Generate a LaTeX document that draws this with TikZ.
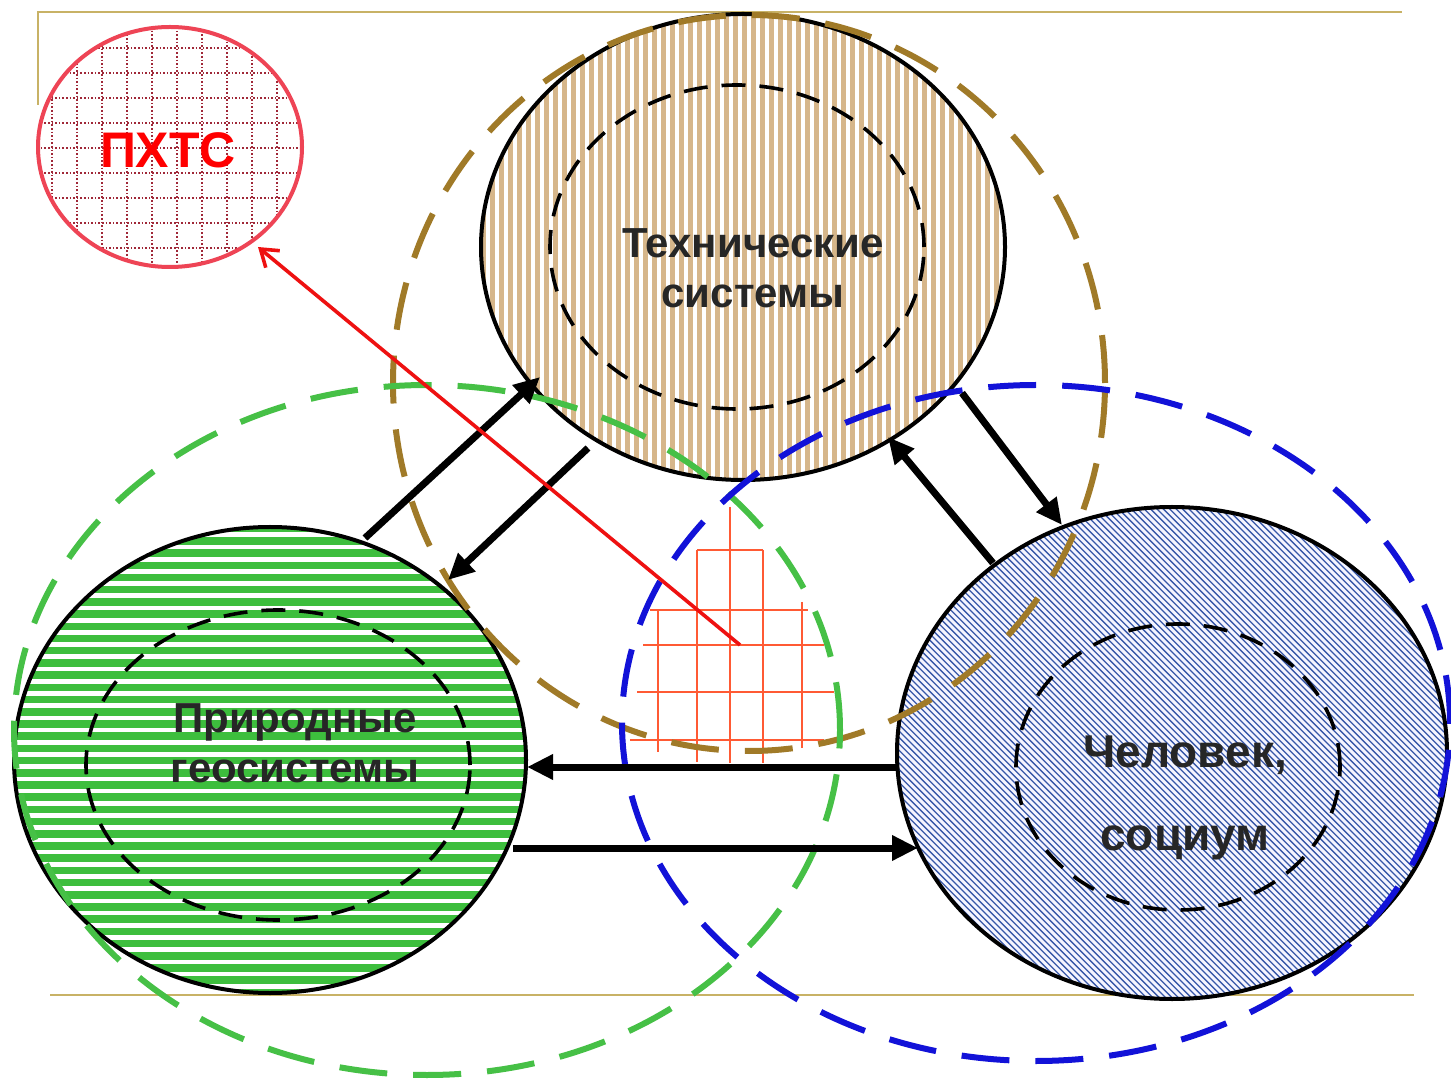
\documentclass[tikz,border=0pt]{standalone}
\usepackage{fontspec}
\setmainfont{Liberation Sans}
\usetikzlibrary{shapes.geometric,arrows.meta}
\definecolor{tanf}{HTML}{D6B68A}
\definecolor{brownd}{HTML}{A07A28}
\definecolor{greenf}{HTML}{3DBE3D}
\definecolor{greend}{HTML}{46C046}
\definecolor{bluel}{HTML}{3858A8}
\definecolor{blued}{HTML}{1212D8}
\definecolor{gridred}{HTML}{FF5A34}
\definecolor{pinkred}{HTML}{EE4455}
\definecolor{dotred}{HTML}{A02838}
\definecolor{framec}{HTML}{C8B266}
\definecolor{arrred}{HTML}{EE1111}
\begin{document}
\begin{tikzpicture}[x=0.5pt,y=-0.5pt]
\tikzset{
 solidc/.style={ellipse, draw=black, line width=2pt, inner sep=0pt},
 innerd/.style={ellipse, draw=black, line width=1.8pt, dash pattern=on 12pt off 7pt, inner sep=0pt},
 outerd/.style={ellipse, line width=3pt, dash pattern=on 24pt off 13pt, inner sep=0pt},
 bigarrow/.style={line width=3.5pt, -{Triangle[length=13pt,width=12pt]}},
 lbl/.style={font=\bfseries\fontsize{21}{25}\selectfont, text=black!85, align=center},
 gridln/.style={gridred, line width=1pt},
 dotgrid/.style={dotred, line width=0.8pt, dash pattern=on 0.8pt off 1pt},
}
\useasboundingbox (0,0) rectangle (1451,1079);
\fill[white] (0,0) rectangle (1451,1079);

% frame lines
\draw[framec, line width=1pt] (38,105) -- (38,12) -- (1402,12);
\draw[framec, line width=1pt] (50,995) -- (1414,995);

% PHTS circle
\begin{scope}
\clip (170,147) ellipse [x radius=132, y radius=120];
\foreach \i in {0,...,10} \draw[dotgrid] ({52+\i*25},20) -- ++(0,260);
\foreach \i in {0,...,10} \draw[dotgrid] (30,{23+\i*25}) -- ++(290,0);
\end{scope}
\node[ellipse, draw=pinkred, line width=2pt, inner sep=0pt, minimum width=132pt, minimum height=120pt] (phts) at (170,147) {};
\node[font=\bfseries\fontsize{25}{30}\selectfont, text=red] (phtslabel) at (168,150) {ПХТС};

% technical systems
\begin{scope}
\clip (743,247) ellipse [x radius=262, y radius=233];
\foreach \i in {0,...,59} \fill[tanf] ({481+\i*9},10) rectangle ++(5,480);
\end{scope}
\node[solidc, minimum width=262pt, minimum height=233pt] (tech) at (743,247) {};
\node[innerd, minimum width=187pt, minimum height=162pt] (techin) at (737,247) {};

% natural geosystems
\begin{scope}
\clip (270,760) ellipse [x radius=256, y radius=233];
\foreach \i in {0,...,40} \fill[greenf] (0,{525+\i*12.2}) rectangle ++(540,7.5);
\end{scope}
\node[solidc, minimum width=256pt, minimum height=233pt] (geo) at (270,760) {};
\node[innerd, minimum width=192pt, minimum height=155pt] (geoin) at (278,765) {};

% human, society
\begin{scope}
\clip (1172,753) ellipse [x radius=275, y radius=246];
\fill[blue!4] (890,500) rectangle (1455,1005);
\foreach \i in {0,...,175} \draw[bluel, line width=0.65pt] ({360+\i*6.4},480) -- ++(620,620);
\end{scope}
\node[solidc, minimum width=275pt, minimum height=246pt] (human) at (1172,753) {};
\node[innerd, minimum width=162pt, minimum height=143pt] (humanin) at (1178,767) {};

% central grid
\draw[gridln] (730,507) -- (730,763);
\draw[gridln] (697,550) -- (697,762);
\draw[gridln] (763,550) -- (763,763);
\draw[gridln] (658,610) -- (658,752);
\draw[gridln] (802,602) -- (802,748);
\draw[gridln] (697,550) -- (763,550);
\draw[gridln] (650,610) -- (808,610);
\draw[gridln] (643,645) -- (824,645);
\draw[gridln] (637,692) -- (834,692);
\draw[gridln] (630,740) -- (824,740);

% outer dashed rings
\node[outerd, draw=brownd, minimum width=356pt, minimum height=368pt] (techring) at (749,383) {};
\node[outerd, draw=greend, minimum width=413pt, minimum height=345pt] (georing) at (427,730) {};
\node[outerd, draw=blued, minimum width=414pt, minimum height=338pt] (humanring) at (1036,723) {};

% arrow end points
\coordinate (g1) at (365,538);
\coordinate (t1) at (540,377);
\coordinate (t2) at (588,448);
\coordinate (g2) at (448,580);
\coordinate (h3) at (993,563);
\coordinate (t3) at (888,437);
\coordinate (t4) at (962,393);
\coordinate (h4) at (1062,525);
\coordinate (h5) at (897,767);
\coordinate (g5) at (527,767);
\coordinate (g6) at (513,848);
\coordinate (h6) at (918,848);
\coordinate (core) at (740,645);
\coordinate (phtsin) at (258,247);

\draw[bigarrow] (g1) -- (t1);
\draw[bigarrow] (t2) -- (g2);
\draw[bigarrow] (h3) -- (t3);
\draw[bigarrow] (t4) -- (h4);
\draw[bigarrow] (h5) -- (g5);
\draw[bigarrow] (g6) -- (h6);

\draw[arrred, line width=1.8pt, -{Straight Barb[length=8pt,width=11pt]}] (core) -- (phtsin);

% labels
\node[lbl] (techlabel) at (753,268) {Технические\\системы};
\node[lbl] (geolabel) at (295,743) {Природные\\геосистемы};
\node[lbl, font=\bfseries\fontsize{23}{41.5}\selectfont] (humanlabel) at (1185,798) {Человек,\\социум};
\end{tikzpicture}
\end{document}
